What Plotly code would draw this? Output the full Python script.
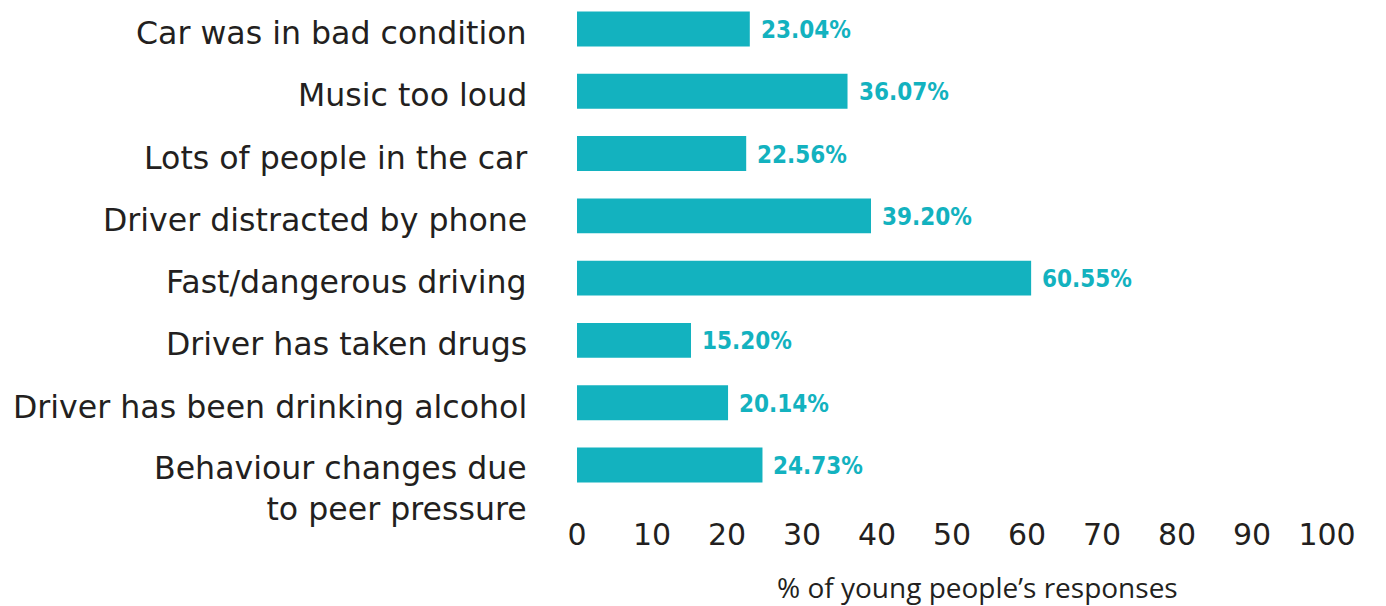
import plotly.graph_objects as go

categories = [
    "Car was in bad condition",
    "Music too loud",
    "Lots of people in the car",
    "Driver distracted by phone",
    "Fast/dangerous driving",
    "Driver has taken drugs",
    "Driver has been drinking alcohol",
    "Behaviour changes due<br>to peer pressure",
]
values = [23.04, 36.07, 22.56, 39.20, 60.55, 15.20, 20.14, 24.73]
value_labels = ["23.04%", "36.07%", "22.56%", "39.20%", "60.55%", "15.20%", "20.14%", "24.73%"]
x_ticks = [0, 10, 20, 30, 40, 50, 60, 70, 80, 90, 100]
x_title = "% of young people\u2019s responses"

TEAL = "#13B2BF"
DARK = "#231F20"

# page body has an 8px default margin; figure is sized/placed to compensate
W, H = 1378, 598
PLOT_L, PLOT_R = 569, 1319
PLOT_T, PLOT_B = 0, 492

fig = go.Figure()
fig.add_trace(go.Bar(
    x=values, y=categories, orientation="h",
    marker=dict(color=TEAL, line=dict(width=0)),
    width=0.56, hoverinfo="skip",
))

annotations = []
for cat, v, lab in zip(categories, values, value_labels):
    annotations.append(dict(
        x=v, y=cat, xref="x", yref="y", text=lab, showarrow=False,
        xanchor="left", yanchor="middle", xshift=9, yshift=-1,
        font=dict(family="Liberation Sans Narrow, DejaVu Sans Condensed, sans-serif",
                  size=24, color=TEAL, weight="bold"),
    ))
    multi = "<br>" in cat
    annotations.append(dict(
        x=0, y=cat, xref="x", yref="y", text=cat, showarrow=False,
        xanchor="right", yanchor="middle", align="right", xshift=-48,
        yshift=(-23 if multi else -4),
        font=dict(family="DejaVu Sans, Verdana, sans-serif", size=31.6, color=DARK),
    ))

annotations.append(dict(
    x=(969 - PLOT_L) / (PLOT_R - PLOT_L), y=-(579 - PLOT_B) / (PLOT_B - PLOT_T),
    xref="paper", yref="paper",
    text=x_title, showarrow=False, xanchor="center", yanchor="middle",
    font=dict(family="Open Sans, sans-serif", size=28, color=DARK),
))

fig.update_layout(
    width=W, height=H,
    margin=dict(l=PLOT_L, r=W - PLOT_R, t=PLOT_T, b=H - PLOT_B, autoexpand=False),
    paper_bgcolor="white", plot_bgcolor="white",
    showlegend=False,
    annotations=annotations,
    xaxis=dict(
        range=[0, 100], tickvals=x_ticks, ticktext=[str(t) for t in x_ticks],
        showgrid=False, zeroline=False, showline=False, ticks="",
        ticklabelstandoff=14, automargin=False,
        tickfont=dict(family="DejaVu Sans, Verdana, sans-serif", size=30, color=DARK),
        fixedrange=True,
    ),
    yaxis=dict(
        range=[7.562, -0.337], showticklabels=False, showgrid=False,
        zeroline=False, showline=False, ticks="", fixedrange=True, automargin=False,
    ),
)

fig.write_html("out.html")
